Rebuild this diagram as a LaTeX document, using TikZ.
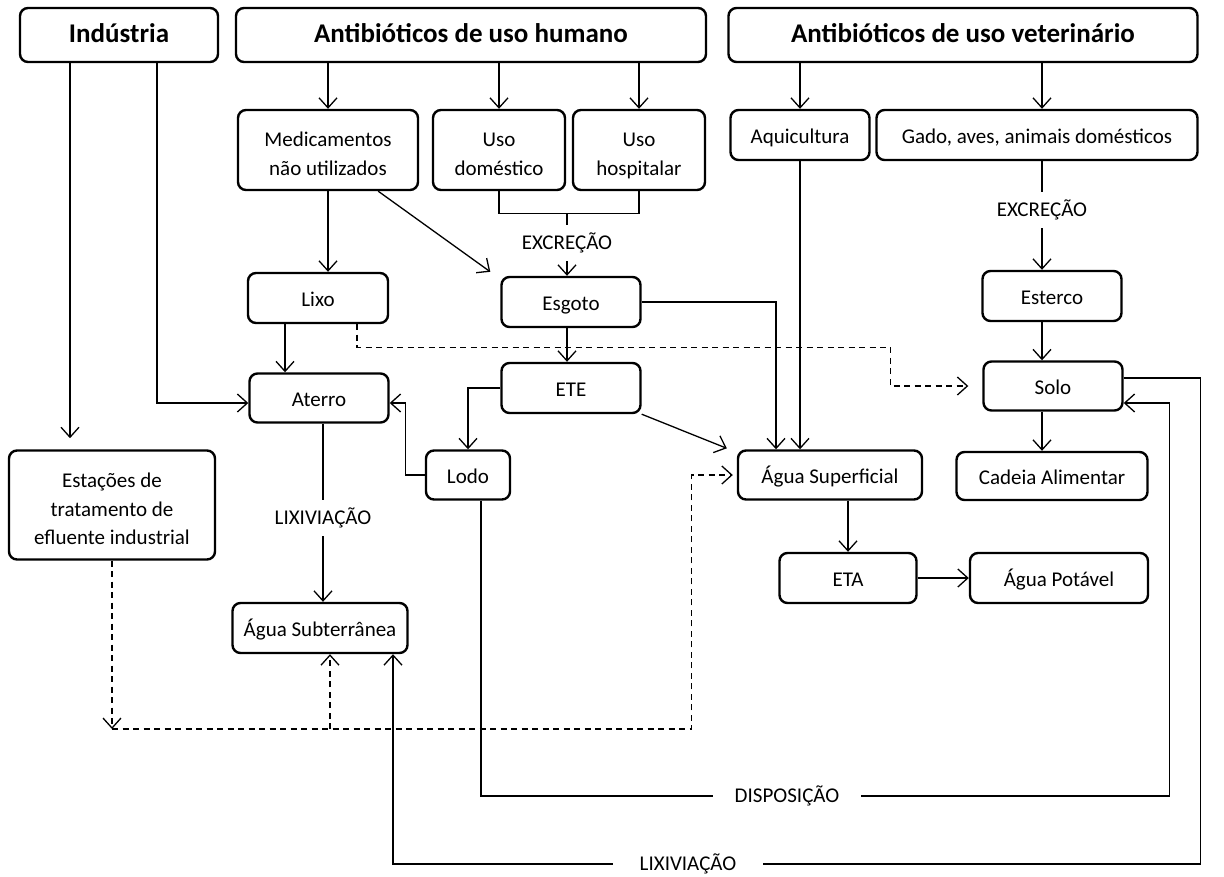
\documentclass[tikz,border=0pt]{standalone}
\usepackage{fontspec}
\setmainfont{Carlito}
\usetikzlibrary{arrows.meta}
\newcommand{\boxstrut}{\rule[-8.5pt]{0pt}{33pt}}
\newcommand{\boxlines}[1]{\begin{tabular}{@{}c@{}}\rule{0pt}{31pt}#1\end{tabular}}

\begin{document}
\begin{tikzpicture}[x=1pt, y=-1pt,
  box/.style={draw, line width=2.4pt, rounded corners=8pt, align=center, inner sep=2pt, font=\fontsize{21}{28.5}\selectfont, execute at begin node=\boxstrut, execute at end node=\boxstrut},
  head/.style={box, font=\fontsize{27}{30}\selectfont\bfseries, minimum height=54pt, execute at begin node=\strut, execute at end node=\strut},
  lbl/.style={inner xsep=6pt, inner ysep=8pt, font=\fontsize{21}{24}\selectfont},
  ln/.style={line width=1.3pt},
  arr/.style={ln, -{Straight Barb[length=10pt,width=18pt]}},
  dsh/.style={dash pattern=on 6pt off 4.5pt},
]
\useasboundingbox (0,0) rectangle (1224,876);

% sources
\node[head, minimum width=198pt] (ind) at (119,35) {Indústria};
\node[head, minimum width=470pt] (hum) at (471,35) {Antibióticos de uso humano};
\node[head, minimum width=469pt] (vet) at (963,35) {Antibióticos de uso veterinário};

\node[box, minimum width=180pt, minimum height=80pt] (med) at (328,150) {\boxlines{Medicamentos\\não utilizados}};
\node[box, minimum width=132pt, minimum height=80pt] (dom) at (499,150) {\boxlines{Uso\\doméstico}};
\node[box, minimum width=132pt, minimum height=80pt] (hosp) at (639,150) {\boxlines{Uso\\hospitalar}};
\node[box, minimum width=139pt, minimum height=50pt] (aqui) at (800,135) {Aquicultura};
\node[box, minimum width=321pt, minimum height=50pt] (gado) at (1037,135) {Gado, aves, animais domésticos};

% middle
\node[box, minimum width=140pt, minimum height=50pt] (lixo) at (318,298) {Lixo};
\node[box, minimum width=139pt, minimum height=50pt] (esgoto) at (571,302) {Esgoto};
\node[box, minimum width=139pt, minimum height=50pt] (esterco) at (1052,296) {Esterco};
\node[box, minimum width=139pt, minimum height=49pt] (aterro) at (319,398) {Aterro};
\node[box, minimum width=139pt, minimum height=50pt] (ete) at (571,388) {ETE};
\node[box, minimum width=139pt, minimum height=49pt] (solo) at (1053,386) {Solo};
\node[box, minimum width=84pt, minimum height=49pt] (lodo) at (468,475) {Lodo};
\node[box, minimum width=184pt, minimum height=49pt] (agsup) at (830,475) {Água Superficial};
\node[box, minimum width=191pt, minimum height=48pt] (cadeia) at (1052,476) {Cadeia Alimentar};
\node[box, minimum width=206pt, minimum height=109pt] (estacoes) at (112,505) {\boxlines{Estações de\\tratamento de\\efluente industrial}};
\node[box, minimum width=137pt, minimum height=50pt] (eta) at (848,578) {ETA};
\node[box, minimum width=178pt, minimum height=50pt] (potavel) at (1059,578) {Água Potável};
\node[box, minimum width=175pt, minimum height=50pt] (agsub) at (320,628) {Água Subterrânea};

% labels on the lines
\node[lbl] (exch) at (567,243) {EXCREÇÃO};
\node[lbl] (excv) at (1042,210) {EXCREÇÃO};
\node[lbl] (lixa) at (323,518) {LIXIVIAÇÃO};
\node[lbl, inner xsep=22pt] (disp) at (787,796) {DISPOSIÇÃO};
\node[lbl, inner xsep=27pt] (lixb) at (688,864) {LIXIVIAÇÃO};
\coordinate (dj) at (112,729);

% industria
\draw[arr] ([xshift=-49pt]ind.south) -- ++(0,375);
\draw[arr] ([xshift=38pt]ind.south) |- ([yshift=-5pt]aterro.west);

% uso humano
\draw[arr] (hum.south -| med.north) -- (med.north);
\draw[arr] (hum.south -| dom.north) -- (dom.north);
\draw[arr] (hum.south -| hosp.north) -- (hosp.north);
\draw[ln] (dom.south) -- ++(0,22) -| (hosp.south);
\draw[ln] (exch.north |- hosp.south) ++(0,22) -- (exch.north);
\draw[arr] (exch.south) -- (exch.south |- esgoto.north);
\draw[arr] (med.south) -- (med.south |- lixo.north);
\draw[arr] ([xshift=-41pt]med.south east) -- ([xshift=-10pt,yshift=4pt]esgoto.north west);
\draw[arr] ([xshift=-33pt]lixo.south) -- ([xshift=-34pt]aterro.north);
\draw[arr, dsh] ([xshift=39pt]lixo.south) -- ++(0,23) -| ([xshift=-92pt]solo.west) -- ([xshift=-14pt]solo.west);
\draw[arr] (esgoto.south -| exch) -- (ete.north -| exch);
\draw[arr] (esgoto.east) -| ([xshift=-54pt]agsup.north);
\draw[arr] (ete.west) -| (lodo.north);
\draw[arr] (ete.south east) -- ([xshift=-10pt,yshift=1pt]agsup.north west);
\draw[arr] (lodo.west) -- ++(-19,0) |- ([yshift=-5pt]aterro.east);
\draw[ln] (aterro.south -| lixa) -- (lixa.north);
\draw[arr] (lixa.south) -- (agsub.north -| lixa);

% uso veterinario
\draw[arr] (vet.south -| aqui.north) -- (aqui.north);
\draw[arr] (aqui.south) -- (aqui.south |- agsup.north);
\draw[arr] (vet.south -| excv) -- (gado.north -| excv);
\draw[ln] (gado.south -| excv) -- (excv.north);
\draw[arr] (excv.south) -- (esterco.north -| excv);
\draw[arr] (esterco.south -| excv) -- (solo.north -| excv);
\draw[arr] (solo.south -| excv) -- (cadeia.north -| excv);
\draw[arr] (agsup.south -| eta.north) -- (eta.north);
\draw[arr] (eta.east) -- (potavel.west);

% disposicao e lixiviacao
\draw[ln] ([xshift=13pt]lodo.south) |- (disp.west);
\draw[arr] (disp.east) -| ([xshift=46pt,yshift=-17pt]solo.east) -- ([yshift=-17pt]solo.east);
\draw[ln] ([yshift=8pt]solo.east) -- ++(77,0) |- (lixb.east);
\draw[arr] (lixb.west) -| ([xshift=73pt]agsub.south);

% efluente industrial
\draw[arr, dsh] (estacoes.south) -- (dj);
\draw[arr, dsh] (dj) -| ([xshift=-45pt]agsup.west) -- ([xshift=-4pt]agsup.west);
\draw[arr, dsh] (dj) ++(218,0) -- ([xshift=10pt]agsub.south);
\end{tikzpicture}
\end{document}
